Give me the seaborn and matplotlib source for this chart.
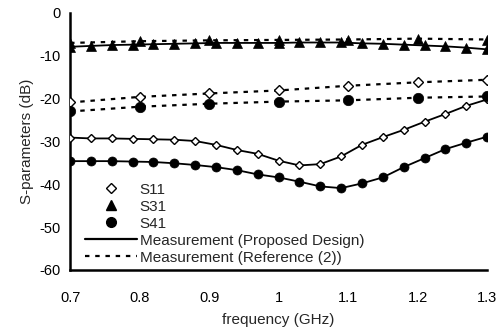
import numpy as np
import pandas as pd
import matplotlib
matplotlib.use("Agg")
import matplotlib.pyplot as plt
import seaborn as sns
from matplotlib.lines import Line2D

# ---- data ----
freq_fine = [0.70, 0.73, 0.76, 0.79, 0.82, 0.85, 0.88, 0.91, 0.94, 0.97, 1.00,
             1.03, 1.06, 1.09, 1.12, 1.15, 1.18, 1.21, 1.24, 1.27, 1.30]
s11_prop = [-29.1, -29.3, -29.3, -29.4, -29.5, -29.6, -29.9, -30.8, -32.0, -32.9, -34.5,
            -35.6, -35.3, -33.5, -30.8, -29.0, -27.3, -25.4, -23.6, -21.7, -20.2]
s31_prop = [-7.9, -7.7, -7.5, -7.4, -7.3, -7.2, -7.1, -7.0, -7.0, -7.0, -7.0,
            -6.9, -6.9, -6.9, -7.1, -7.2, -7.4, -7.6, -7.8, -8.1, -8.5]
s41_prop = [-34.6, -34.6, -34.6, -34.7, -34.8, -35.1, -35.5, -36.0, -36.7, -37.7, -38.4,
            -39.4, -40.5, -40.9, -39.8, -38.4, -36.0, -33.9, -31.8, -30.3, -28.9]

freq_coarse = [0.7, 0.8, 0.9, 1.0, 1.1, 1.2, 1.3]
s11_ref = [-20.9, -19.6, -18.8, -18.1, -17.0, -16.2, -15.6]
s31_ref = [-7.0, -6.6, -6.4, -6.3, -6.2, -6.0, -6.2]
s41_ref = [-23.0, -21.9, -21.2, -20.7, -20.4, -19.8, -19.5]

x_ticks = [0.7, 0.8, 0.9, 1.0, 1.1, 1.2, 1.3]
x_ticklabels = ["0.7", "0.8", "0.9", "1", "1.1", "1.2", "1.3"]
y_ticks = [0, -10, -20, -30, -40, -50, -60]
y_ticklabels = ["0", "-10", "-20", "-30", "-40", "-50", "-60"]

sns.set_theme(style="white")
plt.rcParams["font.family"] = ["Liberation Sans", "DejaVu Sans"]
plt.rcParams["axes.unicode_minus"] = False

fig = plt.figure(figsize=(4.97, 3.32), dpi=100)
ax = fig.add_axes([0.141, 0.187, 0.839, 0.774])

styles = {
    "S11": dict(marker="D", mfc="white", mec="black", ms=4.5, mew=1.0),
    "S31": dict(marker="^", mfc="black", mec="black", ms=6.5, mew=0.5),
    "S41": dict(marker="o", mfc="black", mec="black", ms=6.5, mew=0.5),
}

prop = {"S11": s11_prop, "S31": s31_prop, "S41": s41_prop}
ref = {"S11": s11_ref, "S31": s31_ref, "S41": s41_ref}

dash = (0, (2.0, 2.6))

for name, vals in prop.items():
    df = pd.DataFrame({"f": freq_fine, "v": vals})
    st = styles[name]
    sns.lineplot(data=df, x="f", y="v", ax=ax, color="black", lw=1.3,
                 marker=st["marker"], markerfacecolor=st["mfc"],
                 markeredgecolor=st["mec"], markersize=st["ms"],
                 markeredgewidth=st["mew"], zorder=3)

for name, vals in ref.items():
    df = pd.DataFrame({"f": freq_coarse, "v": vals})
    st = styles[name]
    sns.lineplot(data=df, x="f", y="v", ax=ax, color="black", lw=1.6,
                 linestyle=dash,
                 marker=st["marker"], markerfacecolor=st["mfc"],
                 markeredgecolor=st["mec"], markersize=st["ms"] + 1,
                 markeredgewidth=st["mew"], zorder=3)

ax.set_xlim(0.7, 1.3)
ax.set_ylim(-60, 0)
ax.set_xticks(x_ticks)
ax.set_xticklabels(x_ticklabels)
ax.set_yticks(y_ticks)
ax.set_yticklabels(y_ticklabels)
ax.tick_params(axis="both", direction="in", length=4, width=1.2, labelsize=10.5,
               colors="black")
ax.tick_params(axis="x", pad=15)
ax.tick_params(axis="y", pad=7)
for sp in ["top", "right"]:
    ax.spines[sp].set_visible(False)
for sp in ["left", "bottom"]:
    ax.spines[sp].set_linewidth(1.8)
    ax.spines[sp].set_color("black")
ax.set_xlabel("frequency (GHz)", fontsize=11, labelpad=6)
ax.set_ylabel("S-parameters (dB)", fontsize=11, labelpad=4)
ax.grid(False)

handles = [
    Line2D([], [], ls="none", marker="D", mfc="white", mec="black", ms=5, mew=1.0),
    Line2D([], [], ls="none", marker="^", mfc="black", mec="black", ms=7),
    Line2D([], [], ls="none", marker="o", mfc="black", mec="black", ms=7),
    Line2D([], [], color="black", lw=1.6),
    Line2D([], [], color="black", lw=1.6, ls=dash),
]
labels = ["S11", "S31", "S41", "Measurement (Proposed Design)", "Measurement (Reference (2))"]
ax.legend(handles, labels, loc="upper left", bbox_to_anchor=(0.035, 0.34),
          frameon=False, fontsize=11, labelspacing=0.2, handlelength=3.4,
          handletextpad=0.2, borderpad=0.0, borderaxespad=0.0)

fig.savefig("out.png", dpi=100)
